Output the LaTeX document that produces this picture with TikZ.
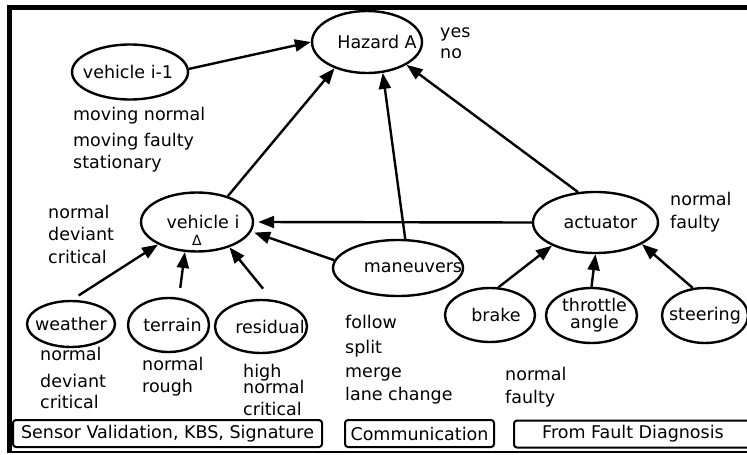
\documentclass[tikz,border=0pt]{standalone}
\usepackage{fontspec}
\setmainfont{DejaVu Sans}
\usetikzlibrary{shapes.geometric,arrows.meta}
% label set inside an ellipse without widening it; #1 moves it right by half its value
\newcommand\vartext[2][0pt]{\makebox[0pt]{\hspace*{#1}#2}}
\begin{document}
\begin{tikzpicture}[x=1pt,y=-1pt,
  font=\fontsize{17.5}{19}\selectfont,
  var/.style 2 args={ellipse, draw, line width=2.4pt, inner sep=0pt,
    minimum width=#1, minimum height=#2},
  link/.style={line width=2.4pt, -{Triangle[length=16pt,width=12pt]}},
  st/.style={anchor=base west, inner sep=0pt},
  srcbox/.style={draw, line width=2pt, rounded corners=3pt, inner sep=0pt,
    minimum width=#1, minimum height=27pt}]
\useasboundingbox (0,0) rectangle (747,455);

% outer frame
\fill (7,5) rectangle (747,10);
\fill (7,5) rectangle (12,452);
\draw[line width=2pt] (7,452) -- (747,452);

% variables
\node[var={110}{62}] (haz) at (367,42) {\vartext[20pt]{Hazard A}};
\node[var={116}{55}] (v1) at (130,72) {\vartext[-4pt]{vehicle i-1}};
\node[var={112}{59}] (vi) at (197,222) {\vartext[12pt]{vehicle i}};
\node[inner sep=0pt, font=\fontsize{14}{14}\selectfont] (videlta) at (197,240) {Δ};
\node[var={130}{56}] (man) at (398,268) {\vartext[30pt]{maneuvers}};
\node[var={125}{61}] (act) at (595.5,222.5) {\vartext[10pt]{actuator}};
\node[var={88}{46}] (weather) at (71,324) {\vartext{weather}};
\node[var={81}{54}] (terrain) at (168.5,325) {\vartext[8pt]{terrain}};
\node[var={92}{53}] (residual) at (261,326.5) {\vartext[18pt]{residual}};
\node[var={90}{54}] (brake) at (490,315) {\vartext[12pt]{brake}};
\node[var={91}{55}, font=\fontsize{17.5}{14}\selectfont] (throttle) at (591.5,315.5)
  {\vartext[6pt]{\begin{tabular}{@{}c@{}}throttle\\angle\end{tabular}}};
\node[var={86}{55}] (steering) at (705,315.5) {\vartext{steering}};

% dependencies
\draw[link] (v1.3) -- (haz.180);
\draw[link] (vi.40) -- (haz.219);
\draw[link] (man.76) -- (haz.297);
\draw[link] (act.120) -- (haz.330);
\draw[link, shorten >=4pt] (act.180) -- (vi.0);
\draw[link, shorten >=3pt] (man.173) -- (vi.350);
\draw[link, shorten <=8pt] (weather.88) -- (vi.210);
\draw[link, shorten <=10pt] (terrain.69) -- (vi.248);
\draw[link, shorten <=14pt] (residual.68) -- (vi.322);
\draw[link] (brake.73) -- (act.208);
\draw[link] (throttle.90) -- (act.270);
\draw[link] (steering.114) -- (act.335);

% state lists
\foreach \yy/\txt [count=\k] in {37/yes, 58/no}
  \node[st] (hazs\k) at (440,\yy) {\txt};
\foreach \yy/\txt [count=\k] in {120/moving normal, 146/moving faulty, 168/stationary}
  \node[st] (v1s\k) at (73,\yy) {\txt};
\foreach \yy/\txt [count=\k] in {218/normal, 240/deviant, 263/critical}
  \node[st] (vis\k) at (48,\yy) {\txt};
\foreach \yy/\txt [count=\k] in {360/normal, 387/deviant, 408/critical}
  \node[st] (weas\k) at (40,\yy) {\txt};
\foreach \yy/\txt [count=\k] in {370/normal, 392/rough}
  \node[st] (ters\k) at (142,\yy) {\txt};
\foreach \yy/\txt [count=\k] in {377/high, 393/normal, 415/critical}
  \node[st] (ress\k) at (243,\yy) {\txt};
\foreach \yy/\txt [count=\k] in {328/follow, 353/split, 377/merge, 400/lane change}
  \node[st] (mans\k) at (345,\yy) {\txt};
\foreach \yy/\txt [count=\k] in {380/normal, 403/faulty}
  \node[st] (brks\k) at (505,\yy) {\txt};
\foreach \yy/\txt [count=\k] in {205/normal, 228/faulty}
  \node[st] (acts\k) at (670,\yy) {\txt};

% evidence sources
\node[srcbox=309pt] (sensors) at (167.5,433.5) {Sensor Validation, KBS, Signature};
\node[srcbox=149pt] (comm) at (419.5,433.5) {Communication};
\node[srcbox=238pt] (fault) at (633,434) {From Fault Diagnosis};
\end{tikzpicture}
\end{document}
